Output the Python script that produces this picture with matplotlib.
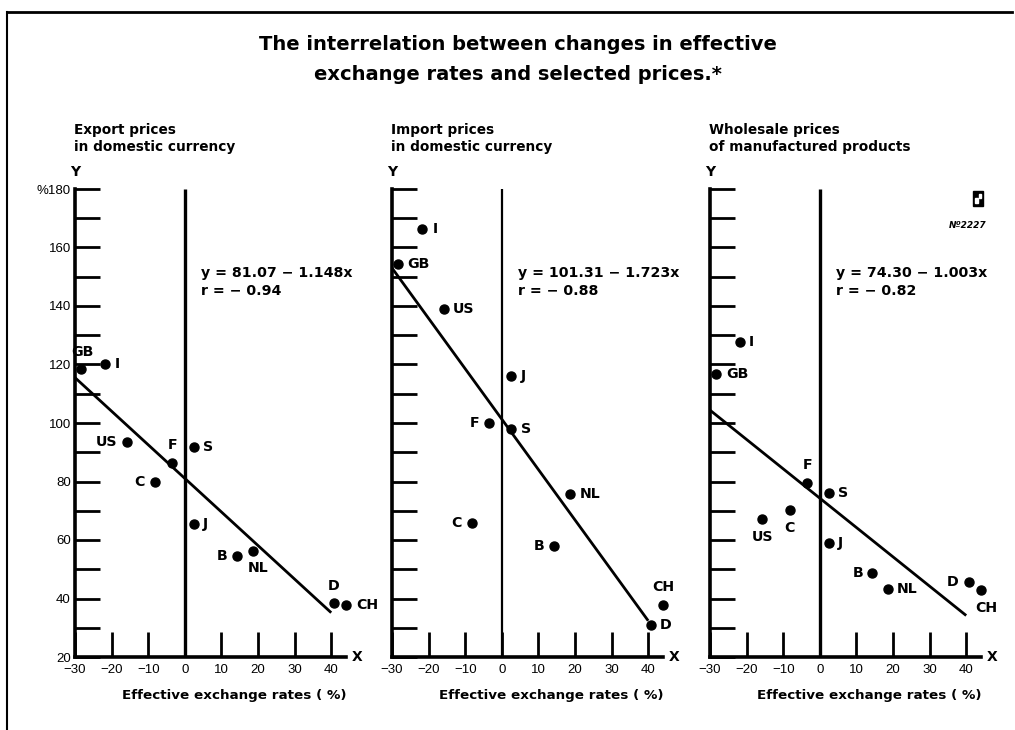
import matplotlib
matplotlib.use("Agg")
import matplotlib.pyplot as plt
from matplotlib.lines import Line2D
from matplotlib.patches import Rectangle
import numpy as np

plt.rcParams["font.family"] = ["DejaVu Sans"]
TICK_FONT = ["Liberation Sans", "DejaVu Sans"]

# ---- data -------------------------------------------------------------
countries = ["GB", "I", "US", "F", "S", "C", "J", "B", "NL", "D", "CH"]
# change in effective exchange rate (%), shared by all three panels
exchange_rate = [-28.3, -21.7, -15.7, -3.4, 2.5, -8.2, 2.5, 14.3, 18.6, 40.7, 44.1]

export_prices = [118.3, 120.3, 93.4, 86.2, 91.7, 79.7, 65.4, 54.5, 56.2, 38.4, 37.7]
import_prices = [154.5, 166.4, 139.1, 99.9, 97.8, 65.7, 115.9, 57.9, 75.6, 30.9, 37.7]
wholesale_prices = [116.9, 127.8, 67.1, 79.4, 76.0, 70.2, 58.9, 48.7, 43.2, 45.6, 42.9]

panel_titles = [("Export prices", "in domestic currency"),
                ("Import prices", "in domestic currency"),
                ("Wholesale prices", "of manufactured products")]
intercepts = [81.07, 101.31, 74.30]
slopes = [-1.148, -1.723, -1.003]
corr = [-0.94, -0.88, -0.82]

x_ticks = [-30, -20, -10, 0, 10, 20, 30, 40]
y_ticks = list(range(20, 181, 10))
y_ticklabels = ["20", "", "40", "", "60", "", "80", "", "100", "", "120", "",
                "140", "", "160", "", "%180"]

# label placement: pixel offsets from the dot and horizontal alignment
label_pos = [
    {"GB": (1, 17, "center"), "I": (9, 0, "left"), "US": (-10, 0, "right"),
     "F": (0, 18, "center"), "S": (9, 0, "left"), "C": (-10, 0, "right"),
     "J": (9, 0, "left"), "B": (-10, 0, "right"), "NL": (5, -17, "center"),
     "D": (0, 17, "center"), "CH": (10, 0, "left")},
    {"GB": (9, 0, "left"), "I": (10, 0, "left"), "US": (8, 0, "left"),
     "F": (-10, 0, "right"), "S": (10, 0, "left"), "C": (-10, 0, "right"),
     "J": (10, 0, "left"), "B": (-10, 0, "right"), "NL": (10, 0, "left"),
     "D": (9, 0, "left"), "CH": (0, 18, "center")},
    {"GB": (10, 0, "left"), "I": (8, 0, "left"), "US": (0, -18, "center"),
     "F": (0, 18, "center"), "S": (9, 0, "left"), "C": (0, -18, "center"),
     "J": (9, 0, "left"), "B": (-9, 0, "right"), "NL": (9, 0, "left"),
     "D": (-10, 0, "right"), "CH": (5, -18, "center")},
]

# ---- figure -------------------------------------------------------------
W, H = 1015, 730
fig = plt.figure(figsize=(W / 100, H / 100), dpi=100)


def fx(px):
    return px / W


def fy(py):
    return 1 - py / H


# frame lines
fig.add_artist(Line2D([fx(7), fx(1012)], [fy(12), fy(12)], lw=2, color="black"))
fig.add_artist(Line2D([fx(7), fx(7)], [fy(12), fy(730)], lw=1.5, color="black"))

fig.text(fx(518), fy(45), "The interrelation between changes in effective",
         ha="center", va="center", fontsize=14, fontweight="bold")
fig.text(fx(518), fy(75), "exchange rates and selected prices.*",
         ha="center", va="center", fontsize=14, fontweight="bold")

XPX = 3.66      # pixels per x unit
YPX = 2.925     # pixels per y unit
x_lo, x_hi = -30, 46
y_lo, y_hi = 20, 180
axis_left_px = [75, 392, 710]
axis_bottom_px = 657

series = [export_prices, import_prices, wholesale_prices]

for i, ax_left in enumerate(axis_left_px):
    width = (x_hi - x_lo) * XPX
    height = (y_hi - y_lo) * YPX
    ax = fig.add_axes([fx(ax_left), fy(axis_bottom_px), width / W, height / H])
    ax.set_xlim(x_lo, x_hi)
    ax.set_ylim(y_lo, y_hi)
    ax.patch.set_alpha(0)
    for s in ["top", "right"]:
        ax.spines[s].set_visible(False)
    ax.spines["left"].set_linewidth(2.6)
    ax.spines["bottom"].set_linewidth(2.6)
    ax.spines["left"].set_bounds(y_lo, y_hi)
    ax.spines["bottom"].set_bounds(x_lo, 44)

    ax.set_xticks(x_ticks)
    ax.set_xticklabels(["\u2212" + str(-t) if t < 0 else str(t) for t in x_ticks],
                       family=TICK_FONT)
    ax.set_yticks(y_ticks)
    ax.set_yticklabels(y_ticklabels if i == 0 else [""] * len(y_ticks),
                       family=TICK_FONT)
    ax.tick_params(axis="both", direction="in", length=18, width=2,
                   labelsize=9.5, pad=3)
    ax.tick_params(axis="x", pad=5)

    # zero line
    ax.vlines(0, y_lo, y_hi, color="black", lw=2.4 if i != 1 else 1.6)

    # regression line
    xs = np.array([-30, 40])
    ax.plot(xs, intercepts[i] + slopes[i] * xs, color="black", lw=2,
            solid_capstyle="butt", clip_on=False)

    # country dots
    ax.plot(exchange_rate, series[i], "o", color="black", ms=6.5,
            clip_on=False, zorder=5)
    for code, xv, yv in zip(countries, exchange_rate, series[i]):
        dx, dy, ha = label_pos[i][code]
        ax.annotate(code, (xv, yv), xytext=(dx, dy), textcoords="offset pixels",
                    ha=ha, va="center", fontsize=10.2, fontweight="bold",
                    annotation_clip=False)

    # equation
    ax.text(4.3, 151.3, f"y = {intercepts[i]:.2f} \u2212 {abs(slopes[i]):.3f}x",
            ha="left", va="center", fontsize=10.2, fontweight="bold")
    ax.text(4.3, 145.0, f"r = \u2212 {abs(corr[i]):.2f}",
            ha="left", va="center", fontsize=10.2, fontweight="bold")

    # axis letters and titles
    ax.annotate("Y", (x_lo, y_hi), xytext=(0, 17), textcoords="offset pixels",
                ha="center", va="center", fontsize=10, fontweight="bold",
                annotation_clip=False)
    ax.annotate("X", (44, y_lo), xytext=(11, 0), textcoords="offset pixels",
                ha="center", va="center", fontsize=10, fontweight="bold",
                annotation_clip=False)
    for line, off in zip(panel_titles[i], (59, 42)):
        ax.annotate(line, (x_lo, y_hi), xytext=(-1, off),
                    textcoords="offset pixels", ha="left", va="center",
                    fontsize=9.8, fontweight="bold", annotation_clip=False)
    ax.annotate("Effective exchange rates ( %)", (13.5, y_lo), xytext=(0, -38),
                textcoords="offset pixels", ha="center", va="center",
                fontsize=9.7, fontweight="bold", annotation_clip=False)

# publisher mark
fig.add_artist(Rectangle((fx(973), fy(206)), 10 / W, 15 / H, color="black"))
fig.add_artist(Rectangle((fx(975), fy(203)), 3 / W, 5 / H, color="white"))
fig.add_artist(Rectangle((fx(979), fy(198)), 2 / W, 4 / H, color="white"))
fig.text(fx(968), fy(226), "N\u00ba2227", ha="center", va="center",
         fontsize=6.5, style="italic", fontweight="bold")

fig.savefig("out.png", dpi=100, facecolor="white")
